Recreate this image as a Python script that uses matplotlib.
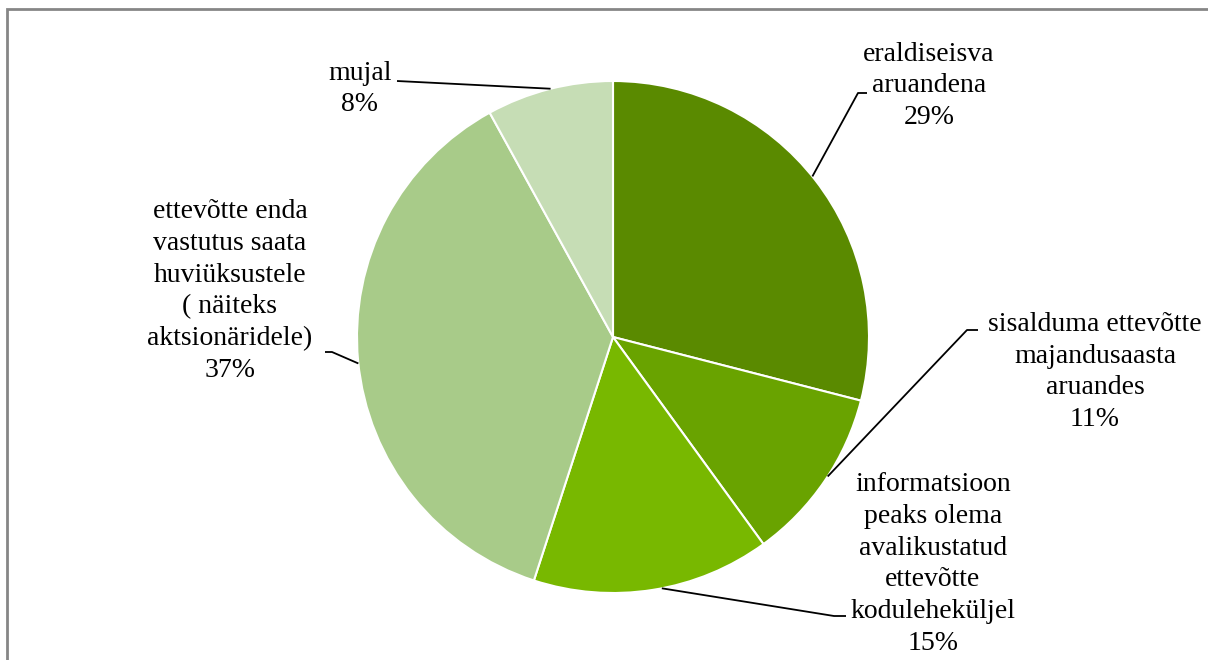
import numpy as np
import matplotlib.pyplot as plt
from matplotlib.patches import Rectangle

plt.rcParams['font.family'] = ['Liberation Serif', 'DejaVu Serif']

labels = ['eraldiseisva\naruandena',
          'sisalduma ettevõtte\nmajandusaasta\naruandes',
          'informatsioon\npeaks olema\navalikustatud\nettevõtte\nkoduleheküljel',
          'ettevõtte enda\nvastutus saata\nhuviüksustele\n( näiteks\naktsionäridele)',
          'mujal']
values = [29, 11, 15, 37, 8]
colors = ['#5a8a00', '#69a300', '#78b800', '#a8cb89', '#c6ddb5']

W, H = 1208, 660
fig = plt.figure(figsize=(W / 100, H / 100), dpi=100)
ax = fig.add_axes([0, 0, 1, 1])

def Y(y):
    # pixel row (from top) -> axis y
    return H - y

cx, cy, r = 613, 337, 256
wedges, _ = ax.pie(values, colors=colors, startangle=90, counterclock=False,
                   center=(cx, Y(cy)), radius=r, frame=True,
                   wedgeprops=dict(edgecolor='white', linewidth=1.5))
ax.set_xlim(0, W)
ax.set_ylim(0, H)
ax.set_aspect('equal')
ax.axis('off')

# label text center, leader elbow (pixels), and where along the wedge the leader starts
lab_pos = [(929, 86), (1095, 372), (933, 564), (230, 291), (360, 89)]
elbows = [[(867, 93), (858, 93)],
          [(978, 330), (967, 330)],
          [(846, 616), (834, 616)],
          [(325, 352), (332, 352)],
          [(397, 81)]]
frac = [0.51, 0.53, 0.537, 0.504, 0.49]

for i, w in enumerate(wedges):
    pct = f'{values[i]}%'
    x, y = lab_pos[i]
    ax.text(x, Y(y), labels[i] + '\n' + pct, ha='center', va='center',
            fontsize=20, linespacing=1.36, color='black')
    a = np.deg2rad(w.theta1 + (w.theta2 - w.theta1) * frac[i])
    px, py = cx + r * np.cos(a), Y(cy) + r * np.sin(a)
    pts = [(ex, Y(ey)) for ex, ey in elbows[i]] + [(px, py)]
    ax.plot([p[0] for p in pts], [p[1] for p in pts], color='black', lw=1.3,
            solid_capstyle='butt')

ax.add_patch(Rectangle((7, -20), W, Y(9) + 20, fill=False, edgecolor='#868686',
                       linewidth=2, clip_on=False))

fig.savefig('out.png', dpi=100)
